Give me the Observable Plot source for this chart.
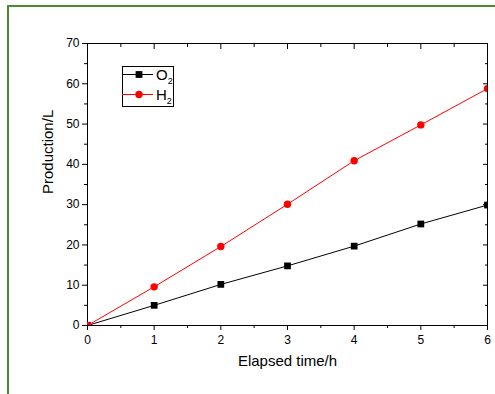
<!DOCTYPE html>
<html><head><meta charset="utf-8">
<script src="https://cdn.jsdelivr.net/npm/d3@7"></script>
<script src="https://cdn.jsdelivr.net/npm/@observablehq/plot@0.6"></script>
<style>
body{margin:0;background:#fff;font-family:"Liberation Sans",Arial,sans-serif;}
#wrap{position:relative;width:495px;height:394px;overflow:hidden;background:#fff;}
#border{position:absolute;left:7px;top:5px;width:600px;height:600px;border-left:2px solid #4b8b2b;border-top:2px solid #4b8b2b;pointer-events:none;}
#chart{position:absolute;left:0;top:0;}
#legend{position:absolute;left:122px;top:66px;}
</style></head><body>
<div id="wrap"><div id="chart"></div><div id="border"></div><div id="legend"></div></div>
<script>
const hours = [0, 1, 2, 3, 4, 5, 6];
const o2 = [0, 5.0, 10.2, 14.8, 19.7, 25.2, 29.9];
const h2 = [0, 9.6, 19.6, 30.1, 40.9, 49.8, 58.8];
const seriesNames = ["O", "H"];
const seriesColors = ["#000000", "#ff0000"];
const xTicks = [0, 1, 2, 3, 4, 5, 6];
const xMinor = [0.5, 1.5, 2.5, 3.5, 4.5, 5.5];
const yTicks = [0, 10, 20, 30, 40, 50, 60, 70];
const yMinor = [5, 15, 25, 35, 45, 55, 65];
const xTitle = "Elapsed time/h";
const yTitle = "Production/L";

const o2Data = hours.map((h, i) => ({h, v: o2[i]}));
const h2Data = hours.map((h, i) => ({h, v: h2[i]}));
const none = () => "";

const plot = Plot.plot({
  width: 495, height: 394,
  marginLeft: 87, marginRight: 8, marginTop: 43, marginBottom: 69,
  style: {fontFamily: "'Liberation Sans', Arial, sans-serif", fontSize: "12px", color: "#000", background: "transparent"},
  x: {domain: [0, 6]},
  y: {domain: [0, 70]},
  marks: [
    Plot.axisX(xTicks, {anchor: "bottom", tickSize: 5, tickPadding: 5, label: null, fontSize: 12}),
    Plot.axisX(xMinor, {anchor: "bottom", tickSize: 3, tickFormat: none, label: null}),
    Plot.axisX(xTicks, {anchor: "top", tickSize: -5, tickFormat: none, label: null}),
    Plot.axisX(xMinor, {anchor: "top", tickSize: -3, tickFormat: none, label: null}),
    Plot.axisY(yTicks, {anchor: "left", tickSize: 5, tickPadding: 3, label: null, fontSize: 12}),
    Plot.axisY(yMinor, {anchor: "left", tickSize: 3, tickFormat: none, label: null}),
    Plot.axisY(yTicks, {anchor: "right", tickSize: -5, tickFormat: none, label: null}),
    Plot.axisY(yMinor, {anchor: "right", tickSize: -3, tickFormat: none, label: null}),
    Plot.frame({stroke: "#000", strokeWidth: 1}),
    Plot.line(o2Data, {x: "h", y: "v", stroke: seriesColors[0], strokeWidth: 1, clip: true}),
    Plot.dot(o2Data, {x: "h", y: "v", symbol: "square", r: 3.8, fill: seriesColors[0], stroke: "none", clip: true}),
    Plot.line(h2Data, {x: "h", y: "v", stroke: seriesColors[1], strokeWidth: 1, clip: true}),
    Plot.dot(h2Data, {x: "h", y: "v", symbol: "circle", r: 3.7, fill: seriesColors[1], stroke: "none", clip: true}),
    Plot.text([xTitle], {frameAnchor: "bottom", text: d => d, dy: 36, lineAnchor: "middle", fontSize: 15, fill: "#000"}),
    Plot.text([yTitle], {frameAnchor: "left", text: d => d, rotate: -90, dx: -39, dy: 9.5, lineAnchor: "middle", fontSize: 15, fill: "#000"})
  ]
});
document.getElementById("chart").appendChild(plot);

// legend
const ns = "http://www.w3.org/2000/svg";
const lg = document.createElementNS(ns, "svg");
lg.setAttribute("width", 54); lg.setAttribute("height", 43);
let html = `<rect x="0.5" y="0.5" width="51" height="40" fill="#fff" stroke="#000" stroke-width="1"/>`;
seriesNames.forEach((name, i) => {
  const y = 8.5 + i * 20;
  const c = seriesColors[i];
  html += `<line x1="0" x2="31" y1="${y}" y2="${y}" stroke="${c}" stroke-width="1"/>`;
  if (i === 0) html += `<rect x="${17 - 3.4}" y="${y - 3.4}" width="6.8" height="6.8" fill="${c}"/>`;
  else html += `<circle cx="17" cy="${y}" r="3.7" fill="${c}"/>`;
  html += `<text x="34" y="${y + 5.5}" font-family="'Liberation Sans', Arial, sans-serif" font-size="15" fill="#000">${name}<tspan font-size="9" dy="4">2</tspan></text>`;
});
lg.innerHTML = html;
document.getElementById("legend").appendChild(lg);
</script>
</body></html>
